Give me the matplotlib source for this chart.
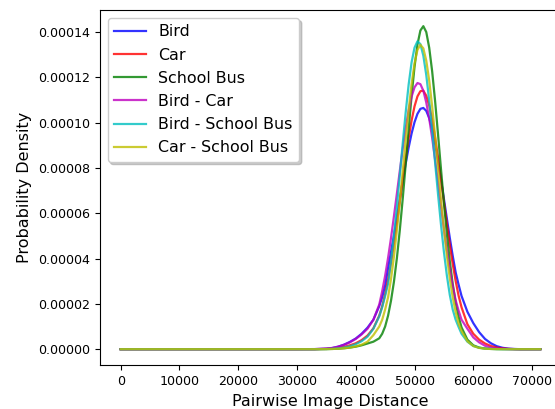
import matplotlib
matplotlib.use("Agg")
import matplotlib.pyplot as plt

# pairwise distance grid (x) and density values in units of 1e-5
distance = [0, 30000, 33000, 35000, 36000, 37000, 38000, 39000, 40000, 41000, 42000, 43000,
            44000, 44500, 45000, 45500, 46000, 46500, 47000, 47500, 48000, 48500, 49000, 49500,
            50000, 50500, 51000, 51500, 52000, 52500, 53000, 53500, 54000, 54500, 55000, 55500,
            56000, 56500, 57000, 57500, 58000,
            59000, 60000, 61000, 62000, 63000, 64000, 65000, 66000, 67000, 68000, 71400]

bird = [0, 0, 0.003, 0.02, 0.05, 0.11, 0.2, 0.32, 0.47, 0.68, 0.95, 1.3,
        1.9, 2.3, 2.8, 3.59, 4.29, 5.03, 5.82, 6.63, 7.43, 8.2, 8.9, 9.52, 10.02, 10.39, 10.61,
        10.65, 10.52, 10.2, 9.71, 9.07, 8.33, 7.5, 6.64, 5.77, 4.92, 4.12, 3.39, 2.85, 2.35,
        1.65, 1.15, 0.75, 0.45, 0.26, 0.13, 0.06, 0.025, 0.008, 0, 0]
car = [0, 0, 0.001, 0.01, 0.025, 0.055, 0.1, 0.17, 0.26, 0.4, 0.6, 0.92,
       1.48, 1.9, 2.43, 3.07, 3.82, 4.66, 5.56, 6.52, 7.49, 8.44, 9.32, 10.09, 10.72, 11.16, 11.39,
       11.41, 11.19, 10.76, 10.13, 9.35, 8.45, 7.49, 6.5, 5.53, 4.61, 3.76, 3.01, 2.36, 1.85,
       1.1, 0.68, 0.42, 0.25, 0.14, 0.07, 0.03, 0.012, 0.004, 0, 0]
school_bus = [0, 0, 0, 0.004, 0.01, 0.02, 0.04, 0.07, 0.11, 0.17, 0.25, 0.33,
              0.48, 0.68, 1.0, 1.48, 2.14, 2.98, 4.02, 5.26, 6.66, 8.17, 9.71, 11.18, 12.46, 13.45, 14.07,
              14.26, 14.0, 13.31, 12.27, 10.96, 9.49, 7.96, 6.47, 5.1, 3.89, 2.88, 2.06, 1.43, 0.96,
              0.42, 0.17, 0.07, 0.03, 0.012, 0.004, 0.001, 0, 0, 0, 0]
bird_car = [0, 0, 0.003, 0.025, 0.055, 0.11, 0.19, 0.3, 0.45, 0.65, 0.9, 1.3,
            1.97, 2.56, 3.24, 4.03, 4.91, 5.87, 6.87, 7.88, 8.86, 9.76, 10.54, 11.15, 11.56, 11.75, 11.7,
            11.41, 10.89, 10.18, 9.33, 8.36, 7.34, 6.31, 5.31, 4.38, 3.53, 2.79, 2.16, 1.7, 1.3,
            0.9, 0.52, 0.3, 0.15, 0.07, 0.03, 0.012, 0.004, 0, 0, 0]
bird_bus = [0, 0, 0, 0.005, 0.015, 0.035, 0.07, 0.13, 0.22, 0.35, 0.55, 0.9,
            1.45, 1.85, 2.35, 2.89, 3.87, 5.01, 6.29, 7.68, 9.1, 10.46, 11.68, 12.66, 13.31, 13.59, 13.47,
            12.96, 12.1, 10.97, 9.66, 8.25, 6.84, 5.51, 4.3, 3.26, 2.4, 1.75, 1.3, 0.98, 0.68,
            0.33, 0.14, 0.06, 0.025, 0.01, 0.003, 0, 0, 0, 0, 0]
car_bus = [0, 0, 0, 0.003, 0.008, 0.02, 0.04, 0.07, 0.12, 0.2, 0.33, 0.62,
           1.0, 1.3, 1.75, 2.29, 3.1, 4.09, 5.24, 6.52, 7.88, 9.25, 10.55, 11.71, 12.62, 13.21, 13.44,
           13.28, 12.74, 11.86, 10.72, 9.41, 8.01, 6.62, 5.32, 4.14, 3.13, 2.3, 1.64, 1.13, 0.8,
           0.35, 0.14, 0.055, 0.02, 0.008, 0.002, 0, 0, 0, 0, 0]

labels = ["Bird", "Car", "School Bus", "Bird - Car", "Bird - School Bus", "Car - School Bus"]
series = [bird, car, school_bus, bird_car, bird_bus, car_bus]
colors = ["b", "r", "g", "m", "c", "y"]

fig = plt.figure(figsize=(5.55, 4.09), dpi=100)
ax = fig.add_axes([0.1796, 0.1068, 0.8317, 0.8687])

for vals, lab, col in zip(series, labels, colors):
    ax.plot(distance, [v * 1e-5 for v in vals], color=col, lw=1.6, alpha=0.8, label=lab)

ax.set_xlabel("Pairwise Image Distance", fontsize=11.5)
ax.set_ylabel("Probability Density", fontsize=11.5)
ax.tick_params(labelsize=9.1)
ax.legend(loc="upper left", shadow={"color": "0.6", "alpha": 0.5, "ox": 2, "oy": -2},
          fontsize=11.4, labelspacing=0.52)

fig.savefig("out.png", dpi=100)
